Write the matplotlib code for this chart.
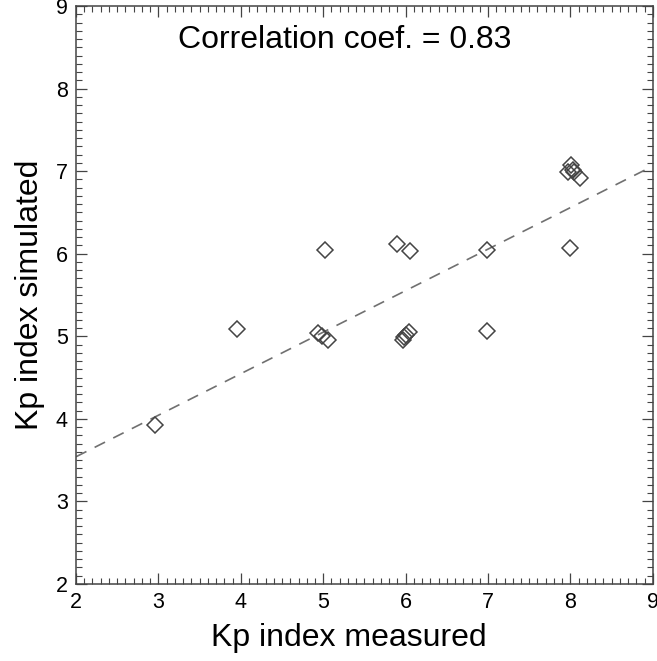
import matplotlib.pyplot as plt
from matplotlib.ticker import MultipleLocator
import numpy as np

plt.rcParams['font.family'] = ['Liberation Sans', 'DejaVu Sans']

# measured vs simulated Kp
kp_measured = [2.96, 3.95, 4.94, 4.98, 5.06, 5.02, 5.89, 6.05,
               5.97, 6.00, 6.04, 5.98, 6.99, 6.99, 7.99,
               8.01, 7.97, 8.04, 8.12, 8.03]
kp_simulated = [3.93, 5.09, 5.04, 5.00, 4.95, 6.05, 6.12, 6.03,
                4.95, 5.01, 5.05, 4.99, 6.04, 5.06, 6.07,
                7.07, 6.99, 6.99, 6.92, 7.01]

# fitted line y = a*x + b
fit_slope = 0.503
fit_intercept = 2.535
corr_text = "Correlation coef. = 0.83"

fig = plt.figure(figsize=(6.57, 6.61), dpi=100)
ax = fig.add_axes([0.1157, 0.1165, 0.878, 0.8744])

xl = np.array([2, 9])
ax.plot(xl, fit_slope * xl + fit_intercept, ls=(0, (7, 5.5)), color='#707070', lw=1.2)

ax.plot(kp_measured, kp_simulated, ls='none', marker='D', ms=8.5,
        mfc='none', mec='#444444', mew=1.1)

ax.set_xlim(2, 9)
ax.set_ylim(2, 9)
ax.xaxis.set_major_locator(MultipleLocator(1))
ax.yaxis.set_major_locator(MultipleLocator(1))
ax.xaxis.set_minor_locator(MultipleLocator(0.1))
ax.yaxis.set_minor_locator(MultipleLocator(0.1))
ax.tick_params(which='both', direction='in', top=True, right=True, color='#444444')
ax.tick_params(which='major', length=8, width=0.9, labelsize=15.5, pad=6)
ax.tick_params(which='minor', length=4.3, width=0.8)
for s in ax.spines.values():
    s.set_color('#444444')
    s.set_linewidth(1.1)

ax.set_xlabel("Kp index measured", fontsize=23, labelpad=7)
ax.xaxis.label.set_x(0.473)
ax.set_ylabel("Kp index simulated", fontsize=23, labelpad=8)
ax.text(0.466, 0.941, corr_text, transform=ax.transAxes, ha='center', va='center', fontsize=23)

fig.savefig("out.png", dpi=100)
